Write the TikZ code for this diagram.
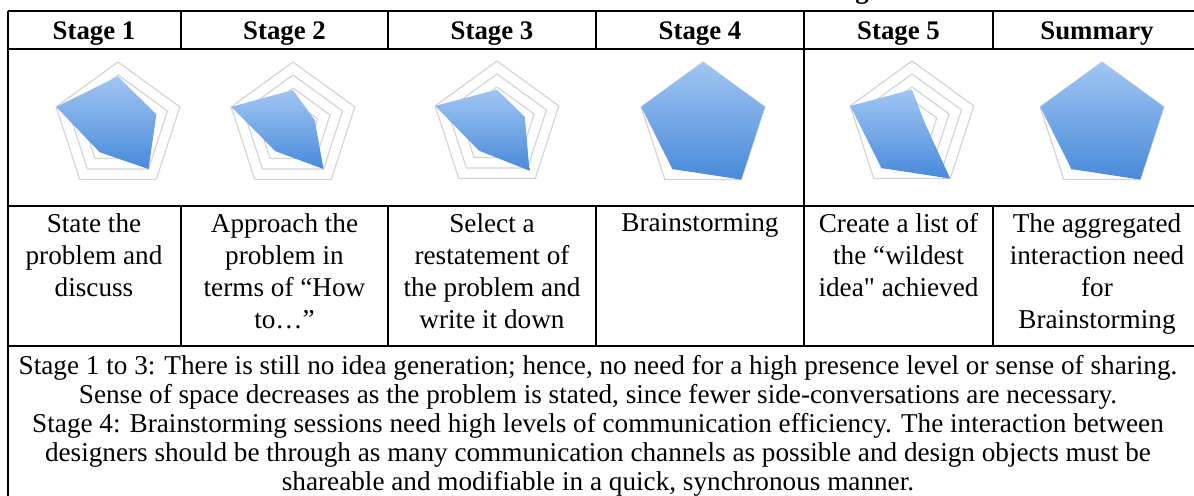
\documentclass[tikz,border=0pt]{standalone}
\usepackage{fontspec}
\setmainfont{Liberation Serif}
\newfontfamily\plainquote{Liberation Serif}
\usetikzlibrary{positioning, calc}
\definecolor{gridgray}{RGB}{212,212,212}
\definecolor{lightblue}{RGB}{162,198,243}
\definecolor{deepblue}{RGB}{72,138,218}

\newcommand{\radarchart}[8]{%
  \begin{scope}[shift={(#2,#3)}]
    \coordinate (#1) at (0,0);
    \foreach \lvl in {1,...,5}
      \draw[ring] (-90:\lvl*13) -- (-18:\lvl*13) -- (54:\lvl*13) -- (126:\lvl*13) -- (198:\lvl*13) -- cycle;
    \shade[chartfill] (-90:#4*65) -- (-18:#5*65) -- (54:#6*65) -- (126:#7*65) -- (198:#8*65) -- cycle;
  \end{scope}}

\begin{document}
\begin{tikzpicture}[
        x=0.5pt, y=-0.5pt,
        rule/.style={line width=1pt, black},
        ring/.style={draw=gridgray, line width=0.6pt},
        chartfill/.style={top color=lightblue, bottom color=deepblue, draw=none},
        head/.style={anchor=base, inner sep=0, font=\bfseries\fontsize{13.4}{15}\selectfont},
        cell/.style={anchor=north, inner sep=0, align=center, font=\fontsize{13.6}{16}\selectfont},
        note/.style={anchor=north, inner sep=0, align=center, font=\fontsize{13.6}{14.5}\selectfont}
    ]
        \useasboundingbox (0,0) rectangle (1194,496);

        \node[head] (tail) at (862,-1) {g};

        \draw[rule] (7.5,11) -- (1210,11);
        \draw[rule] (7.5,49) -- (1210,49);
        \draw[rule] (7.5,206) -- (1210,206);
        \draw[rule] (7.5,346) -- (1210,346);
        \draw[rule] (7.5,11) -- (7.5,500);
        \foreach \cx in {181,388,596,804,993}
            \draw[rule] (\cx,11) -- (\cx,49) (\cx,206) -- (\cx,346);
        \draw[rule] (804,49) -- (804,206);

        \node[head] (stage1) at (94,40) {Stage 1};
        \node[head] (stage2) at (284.5,40) {Stage 2};
        \node[head] (stage3) at (492,40) {Stage 3};
        \node[head] (stage4) at (700,40) {Stage 4};
        \node[head] (stage5) at (898.5,40) {Stage 5};
        \node[head] (summary) at (1097,40) {Summary};

        \radarchart{chart1}{118}{127}{0.78}{0.62}{0.8}{0.48}{1}
        \radarchart{chart2}{293}{127}{0.57}{0.35}{0.8}{0.46}{1}
        \radarchart{chart3}{497}{126}{0.56}{0.45}{0.85}{0.47}{1}
        \radarchart{chart4}{703}{127}{1}{1}{1}{0.8}{1}
        \radarchart{chart5}{912}{126}{0.56}{0.2}{1}{0.8}{1}
        \radarchart{chart6}{1102}{127}{1}{1}{1}{0.8}{1}

        \node[cell] (task1) at (94,213) {State the\\problem and\\discuss};
        \node[cell] (task2) at (284.5,213) {Approach the\\problem in\\terms of “How\\to…”};
        \node[cell] (task3) at (492,213) {Select a\\restatement of\\the problem and\\write it down};
        \node[cell] (task4) at (700,213) {Brainstorming};
        \node[cell] (task5) at (898.5,213) {Create a list of\\the “wildest\\idea{\plainquote"} achieved};
        \node[cell] (task6) at (1097,213) {The aggregated\\interaction need\\for\\Brainstorming};

        \node[note] (remark) at (598,355) {Stage 1 to 3: There is still no idea generation; hence, no need for a high presence level or sense of sharing.\\
            Sense of space decreases as the problem is stated, since fewer side-conversations are necessary.\\
            Stage 4: Brainstorming sessions need high levels of communication efficiency. The interaction between\\
            designers should be through as many communication channels as possible and design objects must be\\
            shareable and modifiable in a quick, synchronous manner.};
    \end{tikzpicture}
\end{document}
